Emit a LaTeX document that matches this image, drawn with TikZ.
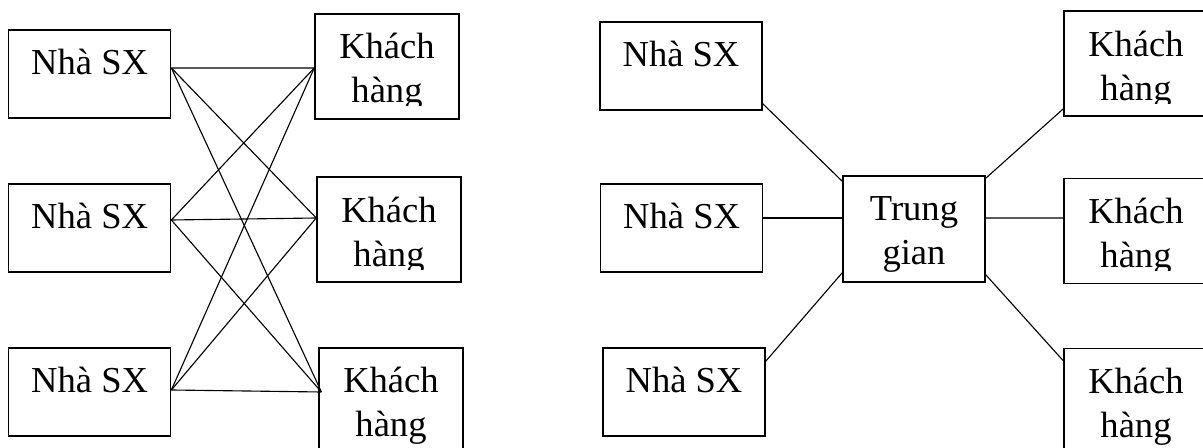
\documentclass[tikz,border=0pt]{standalone}
\usepackage{fontspec}
\setmainfont{Liberation Serif}
\usepackage{trimclip}
\usepackage{tikz}

% two centred lines, first baseline on top
\newcommand{\twolines}[2]{\begin{tabular}[t]{@{}c@{}}#1\\#2\end{tabular}}
% same, with the second line cut just under its baseline
\newcommand{\cutlines}[2]{\clipbox{0pt 7.3pt 0pt 0pt}{\twolines{#1}{#2}}}

\tikzset{
  makerbox/.style={draw, line width=1.1pt, inner sep=0pt, minimum width=4.05cm,
    text height=1.125cm, text depth=1.075cm,
    font=\fontsize{26}{31.3}\selectfont},
  buyerbox/.style={makerbox, minimum width=3.6cm, text depth=1.5cm},
  midbox/.style={makerbox, minimum width=3.55cm, text depth=1.525cm},
  link/.style={line width=0.8pt},
}

\begin{document}
\begin{tikzpicture}
  \useasboundingbox (0,0) rectangle (30.075,11.2);

  % Left: direct trade
  \node[makerbox] (p1) at (2.24,9.35) {Nhà SX};
  \node[makerbox] (p2) at (2.24,5.5) {Nhà SX};
  \node[makerbox] (p3) at (2.24,1.4) {Nhà SX};
  \node[buyerbox] (c1) at (9.675,9.54) {\cutlines{Khách}{hàng}};
  \node[buyerbox] (c2) at (9.725,5.46) {\cutlines{Khách}{hàng}};
  \node[buyerbox] (c3) at (9.775,1.19) {\twolines{Khách}{hàng}};

  \coordinate (p1r) at ([yshift=0.15cm]p1.east);
  \coordinate (p2r) at ([yshift=0.2cm]p2.east);
  \coordinate (p3r) at ([yshift=0.05cm]p3.east);
  \coordinate (c1l) at ([yshift=-0.04cm]c1.west);
  \coordinate (c2l) at ([yshift=0.29cm]c2.west);
  \coordinate (c3l) at ([xshift=0.08cm,yshift=0.21cm]c3.west);

  % every producer meets every customer
  \draw[link] (p1r) -- (c1l);
  \draw[link] (p1r) -- (c2l);
  \draw[link] (p1r) -- (c3l);
  \draw[link] (p2r) -- (c1l);
  \draw[link] (p2r) -- (c2l);
  \draw[link] (p2r) -- (c3l);
  \draw[link] (p3r) -- (c1l);
  \draw[link] (p3r) -- (c2l);
  \draw[link] (p3r) -- (c3l);

  % Right: trade through a middleman
  \node[makerbox] (q1) at (17.025,9.55) {Nhà SX};
  \node[makerbox] (q2) at (17.04,5.5) {Nhà SX};
  \node[makerbox] (q3) at (17.1,1.4) {Nhà SX};
  \node[midbox] (tg) at (22.85,5.475) {\twolines{Trung}{gian}};
  \node[buyerbox] (k1) at (28.4,9.61) {\cutlines{Khách}{hàng}};
  \node[buyerbox] (k2) at (28.4,5.425) {\cutlines{Khách}{hàng}};
  \node[buyerbox] (k3) at (28.4,1.175) {\twolines{Khách}{hàng}};

  \draw[link] ([yshift=0.175cm]q1.south east) -- ([yshift=-0.15cm]tg.north west);
  \draw[link] ([yshift=0.25cm]q2.east) -- ([yshift=0.275cm]tg.west);
  \draw[link] ([yshift=-0.35cm]q3.north east) -- ([yshift=0.25cm]tg.south west);
  \draw[link] ([yshift=-0.075cm]tg.north east) -- ([yshift=0.2cm]k1.south west);
  \draw[link] ([yshift=0.275cm]tg.east) -- ([yshift=0.325cm]k2.west);
  \draw[link] ([yshift=0.2cm]tg.south east) -- ([yshift=-0.325cm]k3.north west);
\end{tikzpicture}
\end{document}
